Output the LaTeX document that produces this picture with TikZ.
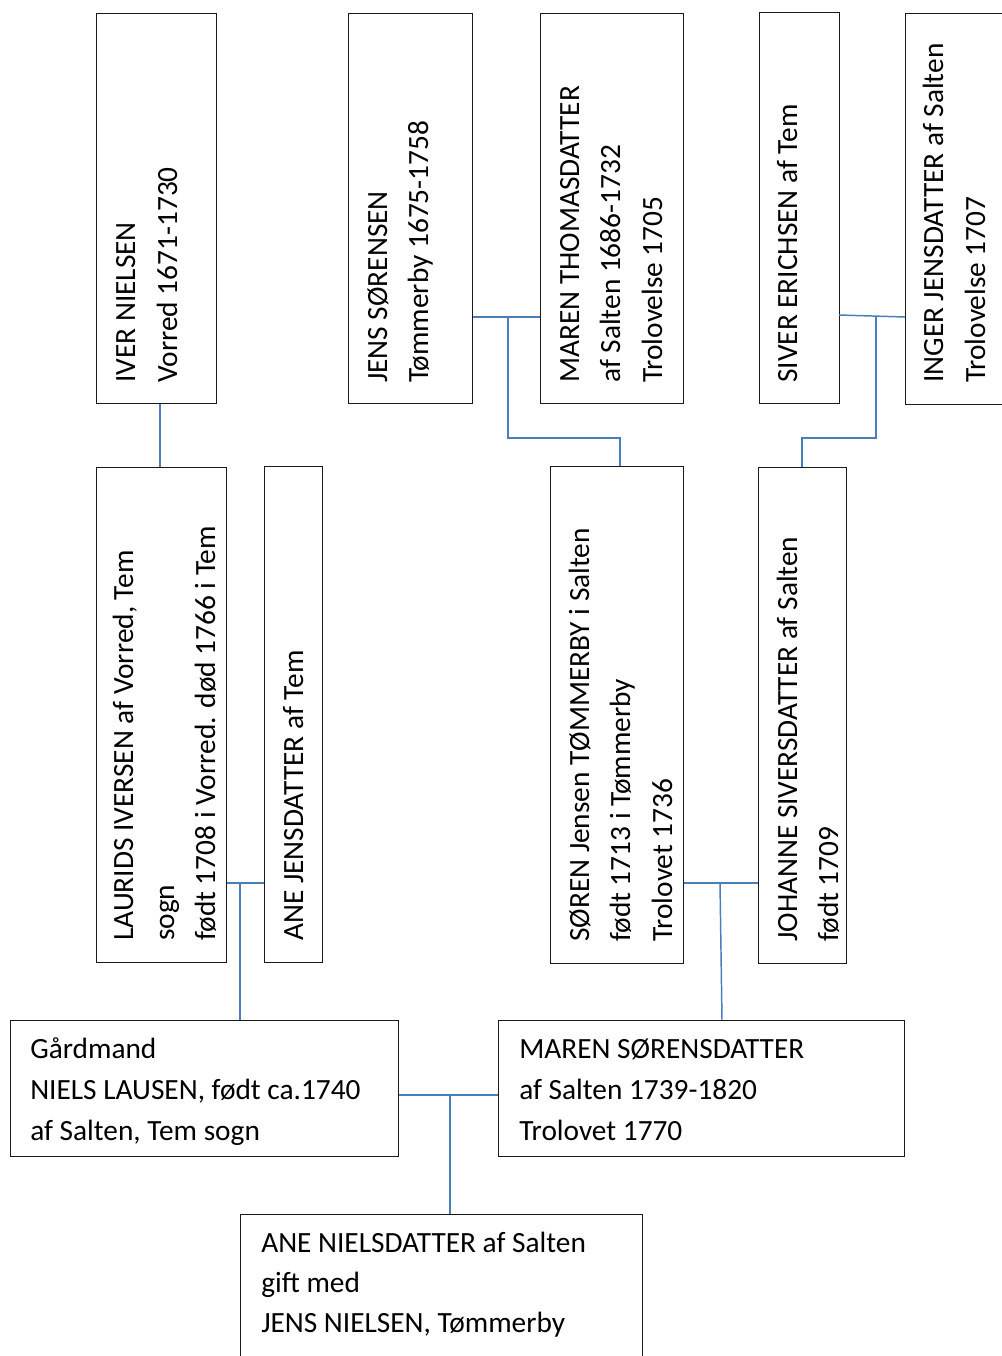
\documentclass[tikz,border=0pt]{standalone}
\usepackage{fontspec}
\setmainfont{Carlito}
\definecolor{conn}{RGB}{74,126,187}
\begin{document}
\begin{tikzpicture}[x=0.75pt,y=-0.75pt,
  box/.style args={#1/#2}{draw=black!90, line width=1pt, minimum width=#1*0.75pt, minimum height=#2*0.75pt, inner sep=0pt, anchor=north west},
  txt/.style={inner sep=0pt, anchor=base west, font=\fontsize{22}{26}\selectfont},
  vtxt/.style={txt, rotate=90},
  link/.style={draw=conn, line width=1.1pt}]
\useasboundingbox (0,0) rectangle (1001,1356);
% boxes
\node[box=120/390] (iver) at (96,13) {};
\node[box=124/390] (jens) at (348,13) {};
\node[box=143/390] (mthom) at (540,13) {};
\node[box=80/391] (siver) at (759,12) {};
\node[box=130/391] (inger) at (905,13) {};
\node[box=130/495] (laurids) at (96,467) {};
\node[box=58/496] (anej) at (264,466) {};
\node[box=133/497] (soren) at (550,466) {};
\node[box=88/496] (johanne) at (758,467) {};
\node[box=388/136] (niels) at (10,1020) {};
\node[box=406/136] (marens) at (498,1020) {};
\node[box=402/170] (anen) at (240,1214) {};
% vertical texts
\node[vtxt] (t1) at (135,383) {IVER NIELSEN};
\node[vtxt] (t2) at (177,383) {Vorred 1671-1730};
\node[vtxt] (t3) at (387,383) {JENS SØRENSEN};
\node[vtxt] (t4) at (428,383) {Tømmerby 1675-1758};
\node[vtxt] (t5) at (579,383) {MAREN THOMASDATTER};
\node[vtxt] (t6) at (620,383) {af Salten 1686-1732};
\node[vtxt] (t7) at (662,383) {Trolovelse 1705};
\node[vtxt] (t8) at (797,383) {SIVER ERICHSEN af Tem};
\node[vtxt] (t9) at (943,383) {INGER JENSDATTER af Salten};
\node[vtxt] (t10) at (985,383) {Trolovelse 1707};
\node[vtxt] (t11) at (133,941) {LAURIDS IVERSEN af Vorred, Tem};
\node[vtxt] (t12) at (174,941) {sogn};
\node[vtxt] (t13) at (215,941) {født 1708 i Vorred. død 1766 i Tem};
\node[vtxt] (t14) at (303,941) {ANE JENSDATTER af Tem};
\node[vtxt] (t15) at (589,942) {SØREN Jensen TØMMERBY i Salten};
\node[vtxt] (t16) at (630,942) {født 1713 i Tømmerby};
\node[vtxt] (t17) at (672,942) {Trolovet 1736};
\node[vtxt] (t18) at (797,942) {JOHANNE SIVERSDATTER af Salten};
\node[vtxt] (t19) at (838,942) {født 1709};
% horizontal texts
\node[txt] (t20) at (30,1058) {Gårdmand};
\node[txt] (t21) at (30,1099) {NIELS LAUSEN, født ca.1740};
\node[txt] (t22) at (30,1140) {af Salten, Tem sogn};
\node[txt] (t23) at (519,1058) {MAREN SØRENSDATTER};
\node[txt] (t24) at (519,1099) {af Salten 1739-1820};
\node[txt] (t25) at (519,1140) {Trolovet 1770};
\node[txt] (t26) at (261,1252) {ANE NIELSDATTER af Salten};
\node[txt] (t27) at (261,1292) {gift med};
\node[txt] (t28) at (261,1332) {JENS NIELSEN, Tømmerby};
% connectors
\coordinate (c1) at (160,0);
\draw[link] (iver.south -| c1) -- (laurids.north -| c1);
\coordinate (m1) at (508,317);
\coordinate (m1b) at (620,438);
\draw[link] (jens.east |- m1) -- (mthom.west |- m1);
\draw[link] (m1) |- (m1b) -- (soren.north -| m1b);
\coordinate (s1) at (839,315);
\coordinate (s2) at (905,317);
\coordinate (s3) at (876,316);
\coordinate (s4) at (802,438);
\draw[link] (s1) -- (s2);
\draw[link] (s3) |- (s4) -- (johanne.north -| s4);
\coordinate (l1) at (240,883);
\draw[link] (laurids.east |- l1) -- (anej.west |- l1);
\draw[link] (l1) -- (niels.north -| l1);
\coordinate (r1) at (720,883);
\coordinate (r2) at (722,0);
\draw[link] (soren.east |- r1) -- (johanne.west |- r1);
\draw[link] (r1) -- (marens.north -| r2);
\coordinate (n1) at (450,1095);
\draw[link] (niels.east |- n1) -- (marens.west |- n1);
\draw[link] (n1) -- (anen.north -| n1);
\end{tikzpicture}
\end{document}
